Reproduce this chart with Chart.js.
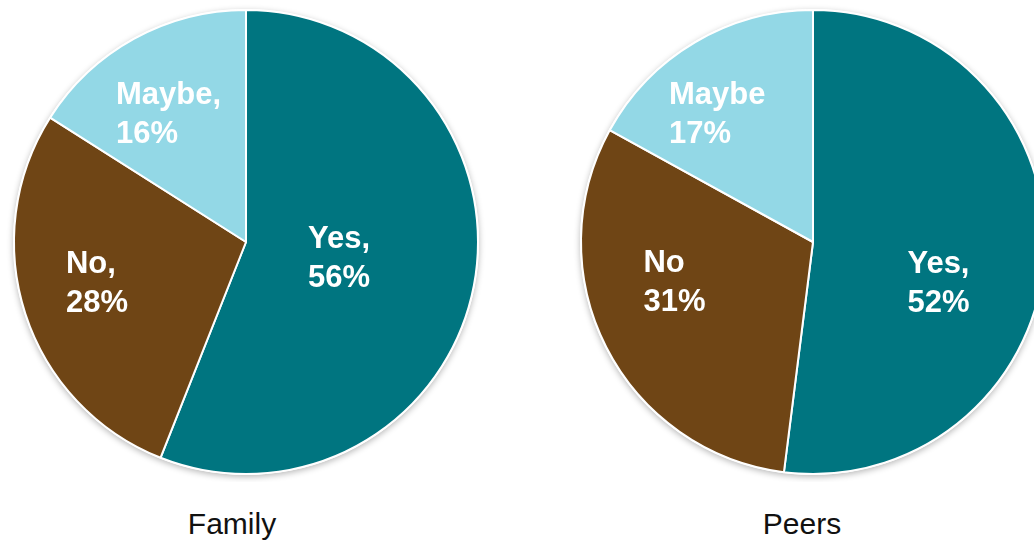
<!DOCTYPE html>
<html>
<head>
<meta charset="utf-8">
<script src="https://cdn.jsdelivr.net/npm/chart.js@4.4.1/dist/chart.umd.min.js"></script>
<style>
	html, body { margin: 0; padding: 0; background: #fff; overflow: hidden; }
	body { width: 1034px; height: 540px; position: relative; font-family: "Liberation Sans", Arial, sans-serif; }
	.pie-box { position: absolute; width: 480px; height: 480px; top: 2px; }
	.pie-name { position: absolute; top: 509px; width: 240px; text-align: center; font-size: 30px; line-height: 1; color: #111; }
</style>
</head>
<body>
<div class="pie-box" style="left: 6px;"><canvas id="familyPie"></canvas></div>
<div class="pie-box" style="left: 573px;"><canvas id="peersPie"></canvas></div>
<div class="pie-name" style="left: 112px;">Family</div>
<div class="pie-name" style="left: 682px;">Peers</div>
<script>
const categories = ["Yes", "No", "Maybe"];
const familyValues = [56, 28, 16];
const peersValues = [52, 31, 17];
const familyNames = ["Yes,", "No,", "Maybe,"];
const peersNames = ["Yes,", "No", "Maybe"];

const sliceColors = ["#007580", "#6f4515", "#93d8e6"];

// where each label block sits: fraction of the radius, and a turn (deg) off the slice middle
const familyLabelSpots = [[0.406, -1.9], [0.665, 3], [0.647, -2.3]];
const peersLabelSpots = [[0.567, 13.9], [0.621, 11.1], [0.693, -6]];

const shadowPlugin = {
	id: "pieShadow",
	beforeDatasetsDraw(chart) {
		const arc = chart.getDatasetMeta(0).data[0];
		if (!arc) return;
		const ctx = chart.ctx;
		ctx.save();
		ctx.shadowColor = "rgba(0, 0, 0, 0.28)";
		ctx.shadowBlur = 6;
		ctx.shadowOffsetY = 2;
		ctx.fillStyle = "#fff";
		ctx.beginPath();
		ctx.arc(arc.x, arc.y, arc.outerRadius + 1, 0, Math.PI * 2);
		ctx.fill();
		ctx.restore();
	}
};

const sliceLabelPlugin = {
	id: "sliceLabels",
	afterDatasetsDraw(chart, args, opts) {
		const ctx = chart.ctx;
		const meta = chart.getDatasetMeta(0);
		const values = chart.data.datasets[0].data;
		ctx.save();
		ctx.fillStyle = "#fff";
		ctx.font = "bold 31px 'Liberation Sans', Arial, sans-serif";
		ctx.textAlign = "left";
		ctx.textBaseline = "alphabetic";
		meta.data.forEach((arc, i) => {
			const spot = opts.spots[i];
			const mid = (arc.startAngle + arc.endAngle) / 2 + spot[1] * Math.PI / 180;
			const r = arc.outerRadius * spot[0];
			const cx = arc.x + r * Math.cos(mid);
			const cy = arc.y + r * Math.sin(mid);
			const lines = [opts.names[i], values[i] + "%"];
			const w = Math.max(...lines.map(l => ctx.measureText(l).width));
			const left = cx - w / 2;
			ctx.fillText(lines[0], left, cy - 9);
			ctx.fillText(lines[1], left, cy + 30);
		});
		ctx.restore();
	}
};

function makePie(id, values, names, spots) {
	return new Chart(document.getElementById(id), {
		type: "pie",
		data: {
			labels: categories,
			datasets: [{
				data: values,
				backgroundColor: sliceColors,
				borderColor: "#fff",
				borderWidth: 2
			}]
		},
		options: {
			responsive: true,
			maintainAspectRatio: false,
			animation: false,
			radius: 232,
			layout: { padding: 0 },
			plugins: {
				legend: { display: false },
				tooltip: { enabled: false },
				sliceLabels: { names: names, spots: spots }
			}
		},
		plugins: [shadowPlugin, sliceLabelPlugin]
	});
}

makePie("familyPie", familyValues, familyNames, familyLabelSpots);
makePie("peersPie", peersValues, peersNames, peersLabelSpots);
</script>
</body>
</html>
